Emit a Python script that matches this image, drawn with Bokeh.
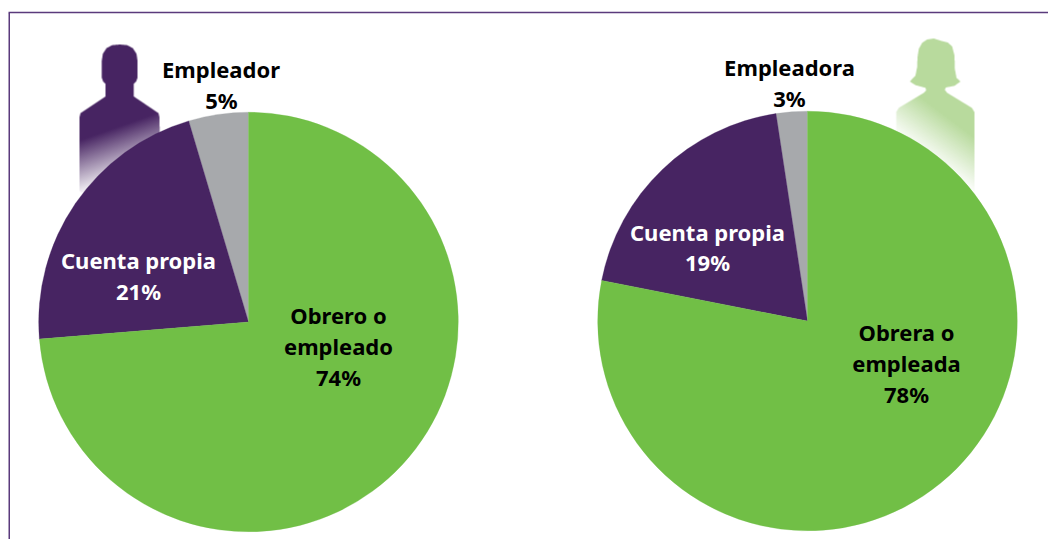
import numpy as np
from bokeh.plotting import figure
from bokeh.embed import file_html
from bokeh.resources import INLINE
from bokeh.models import Range1d
from bokeh.core.properties import value

W, H = 1048, 539
COLORS = ["#a7a9ac", "#472462", "#71bf46"]
FONT = "Noto Sans"
FS = "22px"

# Shares (slice order: counter-clockwise from the top)
men_categories = ["Empleador", "Cuenta propia", "Obrero o empleado"]
men_values = [4.6, 21.7, 73.7]
women_categories = ["Empleadora", "Cuenta propia", "Obrera o empleada"]
women_values = [2.4, 19.5, 78.1]

def Y(py):
    return H - py

p = figure(width=W, height=H, output_backend="svg", toolbar_location=None,
           x_range=Range1d(0, W), y_range=Range1d(0, H), min_border=0)
p.axis.visible = False
p.grid.visible = False
p.outline_line_color = None
p.background_fill_color = "#ffffff"
p.border_fill_color = "#ffffff"


def inside(poly, xs, ys):
    poly = np.array(poly, float)
    x0, y0 = poly[:, 0], poly[:, 1]
    x1, y1 = np.roll(x0, -1), np.roll(y0, -1)
    c = np.zeros(xs.shape, bool)
    for a, b, e, f in zip(x0, y0, x1, y1):
        if a == e and b == f:
            continue
        cond = (b > ys) != (f > ys)
        with np.errstate(divide="ignore", invalid="ignore"):
            xi = (e - a) * (ys - b) / (f - b) + a
        c ^= cond & (xs < xi)
    return c


def silhouette(poly, color, origin, normal, length):
    poly = np.array(poly, float)
    xa, ya = int(poly[:, 0].min()) - 1, int(poly[:, 1].min()) - 1
    xb, yb = int(poly[:, 0].max()) + 2, int(poly[:, 1].max()) + 2
    ss = 4
    gx = xa + (np.arange((xb - xa) * ss) + 0.5) / ss
    gy = ya + (np.arange((yb - ya) * ss) + 0.5) / ss
    xs, ys = np.meshgrid(gx, gy)
    cov = inside(poly, xs, ys).astype(float)
    cov = cov.reshape(yb - ya, ss, xb - xa, ss).mean(axis=(1, 3))
    cx = xa + np.arange(xb - xa) + 0.5
    cy = ya + np.arange(yb - ya) + 0.5
    X, Yy = np.meshgrid(cx, cy)
    t = ((X - origin[0]) * normal[0] + (Yy - origin[1]) * normal[1]) / length
    alpha = np.clip(1 - t, 0, 1) * cov
    img = np.zeros((yb - ya, xb - xa), dtype=np.uint32)
    v = img.view(dtype=np.uint8).reshape((yb - ya, xb - xa, 4))
    r, g, b = [int(color[i:i + 2], 16) for i in (1, 3, 5)]
    v[..., 0], v[..., 1], v[..., 2] = r, g, b
    v[..., 3] = (alpha * 255).astype(np.uint8)
    p.image_rgba(image=[img[::-1]], x=xa, y=Y(yb), dw=xb - xa, dh=yb - ya)


def Z(points, x0=0):
    return [(x0 + a / 3, b / 3) for a, b in points]


man = Z([(358, 132), (335, 134), (318, 143), (307, 160), (304, 180), (304, 232), (308, 243), (315, 250),
         (315, 288), (240, 338), (237, 350), (237, 570), (242, 576), (480, 576), (477, 350), (474, 338), (400, 288),
         (400, 250), (407, 243), (411, 232), (411, 180), (408, 160), (397, 143), (380, 134)])
woman = Z([(700, 114), (680, 117), (665, 127), (655, 145), (651, 170), (650, 200), (645, 225), (628, 243), (645, 254),
           (675, 262), (677, 270), (670, 277), (595, 322), (587, 335), (587, 580), (822, 580), (822, 335), (814, 322),
           (740, 277), (733, 268), (736, 261), (762, 256), (780, 243), (768, 232), (763, 205), (762, 165), (755, 138),
           (742, 126), (722, 121)], 700)

silhouette(man, "#472462", (79, 140), (0.33, 0.94), 53)
silhouette(woman, "#b8da9d", (974, 137), (-0.6, 0.8), 46)


def pie(cx, cy, r, values):
    v = np.array(values, float)
    cum = np.concatenate([[0], np.cumsum(v)]) / v.sum() * 2 * np.pi + np.pi / 2
    p.wedge(x=[cx] * 3, y=[Y(cy)] * 3, radius=r, start_angle=cum[:-1], end_angle=cum[1:],
            fill_color=COLORS, line_color=COLORS, line_width=0.3)


pie(248, 321.5, 209.8, men_values)
pie(807, 320.5, 209.8, women_values)

# frame
p.line(x=[8.75, 8.75], y=[0, Y(12.5)], line_color="#5a3a7c", line_width=1.5)
p.line(x=[8, W], y=[Y(12), Y(12)], line_color="#5a3a7c", line_width=1.5)

labels = [
    ("Empleador", 220.5, 78, "#000000"), ("5%", 221, 109, "#000000"),
    ("Empleadora", 789, 76, "#000000"), ("3%", 789, 107, "#000000"),
    ("Cuenta propia", 138, 269, "#ffffff"), ("21%", 138, 300, "#ffffff"),
    ("Cuenta propia", 707, 241, "#ffffff"), ("19%", 707, 271, "#ffffff"),
    ("Obrero o", 338, 324, "#000000"), ("empleado", 338, 355, "#000000"), ("74%", 338, 386, "#000000"),
    ("Obrera o", 906, 341, "#000000"), ("empleada", 906, 372, "#000000"), ("78%", 906, 403, "#000000"),
]
p.text(x=[l[1] for l in labels], y=[Y(l[2] - 10) for l in labels], text=[l[0] for l in labels],
       text_color=[l[3] for l in labels], text_font=value(FONT), text_font_style="bold",
       text_font_size=FS, text_align="center", text_baseline="middle")

open("out.html", "w").write(file_html(p, INLINE))
